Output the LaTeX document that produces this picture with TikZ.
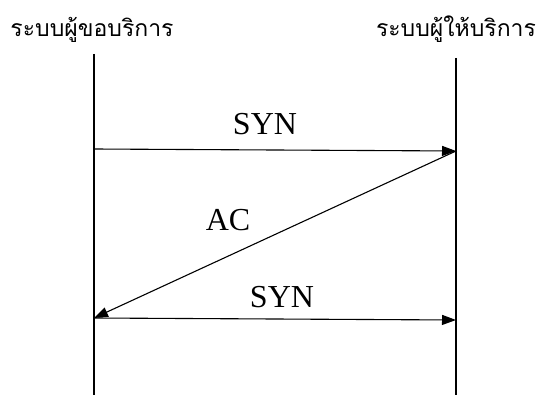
\documentclass[tikz,border=0pt]{standalone}
\usepackage{fontspec}
\setmainfont{Liberation Serif}
\newfontfamily\thaifont[Script=Thai]{Loma}
\usetikzlibrary{arrows.meta}
\begin{document}
\begin{tikzpicture}[x=1pt,y=-1pt,
  life/.style={line width=1.1pt},
  msg/.style={line width=1.1pt,-{Triangle[length=14pt,width=10pt]}},
  lbl/.style={font=\fontsize{32}{32}\selectfont,inner sep=0pt,anchor=base},
  hdr/.style={font=\thaifont\fontsize{23}{23}\selectfont,inner sep=0pt,anchor=base}]
\useasboundingbox (0,0) rectangle (545,395);
\node[hdr] (hl) at (92,37) {ระบบผู้ขอบริการ};
\node[hdr] (hr) at (456,37) {ระบบผู้ให้บริการ};
\coordinate (lt) at (94,54);
\coordinate (lb) at (94,395);
\coordinate (rt) at (456,58);
\coordinate (rb) at (456,395);
\draw[life] (lt) -- (lb);
\draw[life] (rt) -- (rb);
\coordinate (a1) at (94,149);
\coordinate (a2) at (456,151);
\coordinate (b2) at (94,318);
\coordinate (c2) at (456,320);
\draw[msg] (a1) -- (a2);
\draw[msg] (a2) -- (b2);
\draw[msg] (b2) -- (c2);
\node[lbl] (s1) at (265,135) {SYN};
\node[lbl] (ac) at (228,230) {AC};
\node[lbl] (s2) at (282,307) {SYN};
\end{tikzpicture}
\end{document}
